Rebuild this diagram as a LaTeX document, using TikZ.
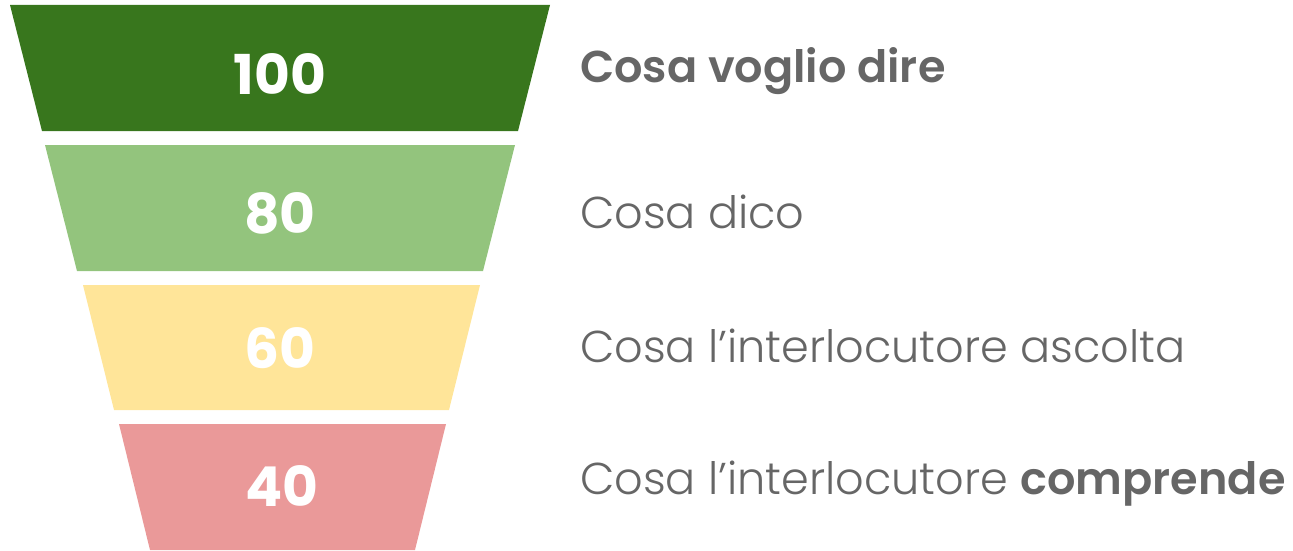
\documentclass[tikz,border=0pt]{standalone}
\usepackage{fontspec}
\setmainfont{Poppins}[UprightFont=* Light, BoldFont=* SemiBold]
\newfontfamily\numfont{Poppins Bold}
\definecolor{layerA}{HTML}{38761D}
\definecolor{layerB}{HTML}{93C47D}
\definecolor{layerC}{HTML}{FFE599}
\definecolor{layerD}{HTML}{EA9999}
\definecolor{labelgray}{HTML}{666666}
\tikzset{
  num/.style={text=white, font=\numfont\fontsize{55}{55}\selectfont, inner sep=0pt},
  lab/.style={text=labelgray, font=\fontsize{44.6}{44.6}\selectfont, anchor=west, inner sep=0pt}
}
\begin{document}
\begin{tikzpicture}[x=1pt,y=-1pt]
    \useasboundingbox (0,0) rectangle (1293,551);
    % Draw the four layers of the funnel
    \fill[layerA] (10,5) -- (550,5) -- (518,131) -- (42,131) -- cycle;
    \fill[layerB] (45,145) -- (515,145) -- (483,271) -- (77,271) -- cycle;
    \fill[layerC] (83,285) -- (480,285) -- (449,410) -- (114,410) -- cycle;
    \fill[layerD] (119,424) -- (446,424) -- (415,550) -- (150,550) -- cycle;

    % Draw the numbers on the layers
    \node[num] (n100) at (280,74) {100};
    \node[num] (n80) at (280,213) {80};
    \node[num] (n60) at (280,348) {60};
    \node[num] (n40) at (282,486) {40};

    % Draw the labels on the right
    \node[lab] (dire) at (580,71) {\textbf{Cosa voglio dire}};
    \node[lab] (dico) at (580,212) {Cosa dico};
    \node[lab] (ascolta) at (580,346) {Cosa l’interlocutore ascolta};
    \node[lab] (comprende) at (580,484) {Cosa l’interlocutore \textbf{comprende}};

\end{tikzpicture}
\end{document}
